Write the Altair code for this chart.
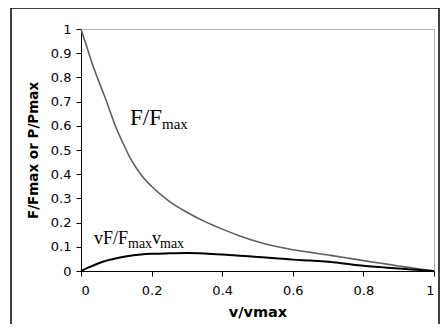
import altair as alt
import pandas as pd

# Force/velocity curve (F/Fmax)
v_force = [0, 0.01, 0.02, 0.03, 0.05, 0.07, 0.10, 0.12, 0.14, 0.17, 0.20, 0.25, 0.30,
           0.35, 0.40, 0.45, 0.50, 0.55, 0.60, 0.65, 0.70, 0.75, 0.80, 0.85, 0.90, 0.95, 1.0]
force = [1.0, 0.955, 0.91, 0.865, 0.785, 0.71, 0.59, 0.525, 0.465, 0.398, 0.350, 0.288, 0.243,
         0.205, 0.173, 0.145, 0.121, 0.102, 0.088, 0.077, 0.066, 0.055, 0.043, 0.032, 0.021, 0.010, 0.0]

# Power curve (vF/Fmax vmax)
v_power = [0, 0.02, 0.04, 0.06, 0.08, 0.10, 0.13, 0.17, 0.20, 0.25, 0.30, 0.35, 0.40,
           0.45, 0.50, 0.55, 0.60, 0.65, 0.70, 0.75, 0.80, 0.85, 0.90, 0.95, 1.0]
power = [0, 0.014, 0.026, 0.037, 0.046, 0.053, 0.061, 0.068, 0.071, 0.073, 0.074, 0.072, 0.068,
         0.063, 0.058, 0.053, 0.047, 0.043, 0.038, 0.030, 0.022, 0.016, 0.010, 0.005, 0.0]

x_ticks = [0, 0.2, 0.4, 0.6, 0.8, 1.0]
y_ticks = [0, 0.1, 0.2, 0.3, 0.4, 0.5, 0.6, 0.7, 0.8, 0.9, 1.0]

W, H = 353, 242

df_f = pd.DataFrame({"v": v_force, "y": force})
df_p = pd.DataFrame({"v": v_power, "y": power})

xs = alt.Scale(domain=[0, 1], nice=False)
ys = alt.Scale(domain=[0, 1], nice=False)

x_axis = alt.Axis(values=x_ticks, format=".1~f", title="v/vmax", grid=False,
                  labelOverlap=False, domainColor="black", tickColor="black", tickSize=5,
                  labelFont="DejaVu Sans", labelFontSize=13, labelColor="black",
                  labelPadding=8, titleFont="DejaVu Sans", titleFontSize=14.5,
                  titleFontWeight="bold", titleColor="black", titleX=W / 2, titleY=41,
                  titleBaseline="middle", titleAlign="center")
y_axis = alt.Axis(values=y_ticks, format=".1~f", title="F/Fmax or P/Pmax", grid=False,
                  labelOverlap=False, domainColor="black", tickColor="black", tickSize=5,
                  labelFont="DejaVu Sans", labelFontSize=13, labelColor="black",
                  labelPadding=5, titleFont="DejaVu Sans", titleFontSize=13.5,
                  titleFontWeight="bold", titleColor="black", titleX=-48, titleY=H / 2,
                  titleAngle=-90, titleBaseline="middle", titleAlign="center")

line_f = alt.Chart(df_f).mark_line(color="#5f5f5f", strokeWidth=1.6, interpolate="monotone").encode(
    x=alt.X("v:Q", scale=xs, axis=x_axis),
    y=alt.Y("y:Q", scale=ys, axis=y_axis),
)
line_p = alt.Chart(df_p).mark_line(color="black", strokeWidth=2, interpolate="monotone").encode(
    x=alt.X("v:Q", scale=xs, axis=x_axis),
    y=alt.Y("y:Q", scale=ys, axis=y_axis),
)

one = pd.DataFrame({"a": [0]})


def label(txt, x, y, size):
    return alt.Chart(one).mark_text(font="Liberation Serif", fontSize=size, color="black",
                                    align="left", baseline="alphabetic").encode(
        x=alt.value(x), y=alt.value(y), text=alt.value(txt))


labels = [
    label("F/F", 49, 96, 23),
    label("max", 81, 100, 15),
    label("vF/F", 13, 215, 18),
    label("max", 47, 219, 14),
    label("v", 71, 215, 18),
    label("max", 79, 219, 14),
]

frame = alt.Chart(one).mark_rect(filled=False, stroke="black", strokeWidth=1.5).encode(
    x=alt.value(-70), x2=alt.value(358), y=alt.value(-21), y2=alt.value(330))

chart = alt.layer(line_f, line_p, *labels, frame).properties(
    width=W, height=H,
    autosize=alt.AutoSizeParams(type="none"),
    padding={"left": 73, "top": 21, "right": 6, "bottom": 53},
    background="white",
).configure_view(stroke="#b0b0b0", strokeWidth=1)

chart.save("out.html", embed_options={"renderer": "svg", "actions": False})
